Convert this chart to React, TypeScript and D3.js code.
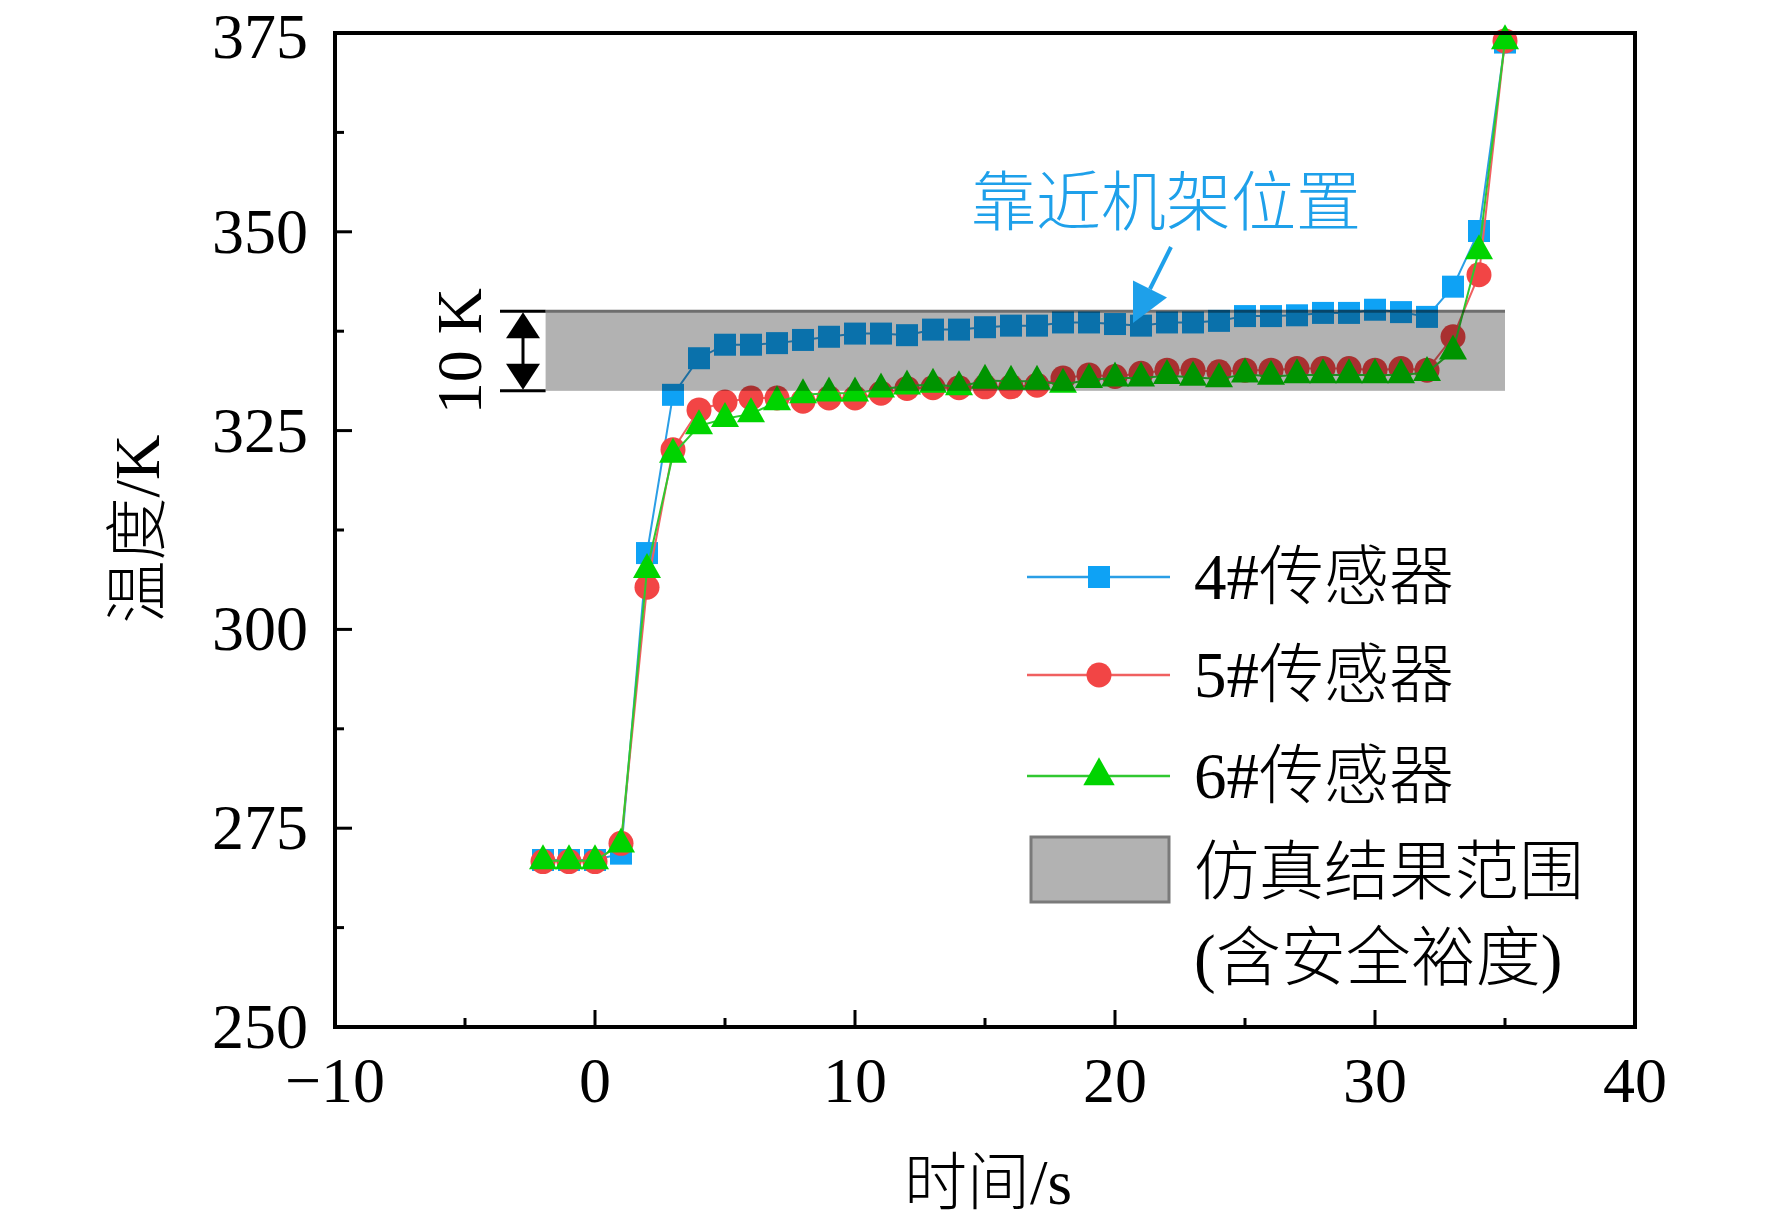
import React from "react";
import * as d3 from "d3";

const TIME = [-2, -1, 0, 1, 2, 3, 4, 5, 6, 7, 8, 9, 10, 11, 12, 13, 14, 15, 16, 17, 18, 19, 20, 21, 22, 23, 24, 25, 26, 27, 28, 29, 30, 31, 32, 33, 34, 35];
const SENSOR4 = [271.0, 271.0, 271.0, 271.8, 309.6, 329.5, 334.1, 335.8, 335.8, 336.0, 336.4, 336.8, 337.2, 337.2, 337.0, 337.7, 337.7, 338.0, 338.2, 338.2, 338.6, 338.6, 338.4, 338.2, 338.6, 338.6, 338.8, 339.4, 339.4, 339.5, 339.8, 339.8, 340.2, 339.9, 339.3, 343.1, 350.1, 373.8];
const SENSOR5 = [270.8, 270.8, 270.8, 273.1, 305.3, 322.6, 327.6, 328.6, 329.1, 329.1, 328.7, 329.1, 329.1, 329.7, 330.3, 330.4, 330.4, 330.5, 330.5, 330.7, 331.6, 332.0, 331.8, 332.2, 332.6, 332.6, 332.4, 332.6, 332.6, 332.8, 332.8, 332.8, 332.6, 332.8, 332.6, 336.8, 344.6, 374.0];
const SENSOR6 = [270.9, 270.9, 270.9, 273.0, 307.5, 322.0, 325.6, 326.5, 327.1, 328.6, 329.5, 329.7, 329.7, 330.2, 330.6, 330.8, 330.5, 331.3, 331.2, 331.2, 330.8, 331.4, 331.6, 331.6, 331.9, 331.7, 331.5, 332.1, 331.8, 332.0, 332.0, 332.0, 332.0, 332.0, 332.3, 335.0, 347.6, 374.0];

const X_TICKS = [-10, 0, 10, 20, 30, 40];
const X_MINOR = [-5, 5, 15, 25, 35];
const Y_TICKS = [250, 275, 300, 325, 350, 375];
const Y_MINOR = [262.5, 287.5, 312.5, 337.5, 362.5];
const X_TICK_LABELS = ["\u221210", "0", "10", "20", "30", "40"];
const Y_TICK_LABELS = ["250", "275", "300", "325", "350", "375"];

const BAND_T = [-1.9, 35];
const BAND_K = [330, 340];

const SERIES_NAMES = ["4#传感器", "5#传感器", "6#传感器"];
const BAND_NAME = ["仿真结果范围", "(含安全裕度)"];
const ANNOTATION = "靠近机架位置";
const X_TITLE = "时间/s";
const Y_TITLE = "温度/K";
const BAND_LABEL = "10 K";

const NUM_FONT = "'Liberation Serif', 'Times New Roman', serif";
const MIX_FONT = "'Liberation Serif', 'Noto Sans CJK SC', serif";

const BLUE = "#0ea2f5";
const BLUE_LINE = "#2a9ee6";
const RED = "#f24545";
const RED_LINE = "#f06060";
const GREEN = "#00d400";
const GREEN_LINE = "#30c830";
const ANNO_BLUE = "#1ea0ea";

function Marker({ kind, x, y, color, scale = 1 }: { kind: string; x: number; y: number; color: string; scale?: number }) {
  if (kind === "square") {
    const h = 11 * scale;
    return <rect x={x - h} y={y - h} width={2 * h} height={2 * h} fill={color} />;
  }
  if (kind === "circle") {
    return <circle cx={x} cy={y} r={12.5 * scale} fill={color} />;
  }
  const s = 28 * scale;
  const h = 25 * scale;
  const p = `M${x},${y - (2 * h) / 3} L${x + s / 2},${y + h / 3} L${x - s / 2},${y + h / 3} Z`;
  return <path d={p} fill={color} />;
}

export default function App() {
  const W = 1772;
  const H = 1224;
  const x = d3.scaleLinear().domain([-10, 40]).range([335, 1635]);
  const y = d3.scaleLinear().domain([250, 375]).range([1027, 33]);

  const series = [
    { name: SERIES_NAMES[0], values: SENSOR4, color: BLUE, line: BLUE_LINE, kind: "square", legScale: 1 },
    { name: SERIES_NAMES[1], values: SENSOR5, color: RED, line: RED_LINE, kind: "circle", legScale: 1 },
    { name: SERIES_NAMES[2], values: SENSOR6, color: GREEN, line: GREEN_LINE, kind: "triangle", legScale: 1.12 },
  ];

  const lineGen = d3
    .line<number>()
    .x((_, i) => x(TIME[i]))
    .y((d) => y(d));

  const x0 = x.range()[0];
  const x1 = x.range()[1];
  const yTop = y.range()[1];
  const yBot = y.range()[0];

  const bandX0 = x(BAND_T[0]);
  const bandX1 = x(BAND_T[1]);
  const bandY0 = y(BAND_K[1]);
  const bandY1 = y(BAND_K[0]);

  // legend
  const legX0 = 1027;
  const legX1 = 1170;
  const legMid = 1099;
  const legTextX = 1194;
  const legRows = [577, 675, 776];

  // double arrow
  const arrX = 523;
  const arrowUp = `M${arrX},${bandY0 + 1} L${arrX + 17},${bandY0 + 27} L${arrX - 17},${bandY0 + 27} Z`;
  const arrowDown = `M${arrX},${bandY1 - 1} L${arrX + 17},${bandY1 - 27} L${arrX - 17},${bandY1 - 27} Z`;

  // annotation arrow
  const aStart = [1171, 247];
  const aTip = [1133, 323];
  const ang = Math.atan2(aTip[1] - aStart[1], aTip[0] - aStart[0]);
  const headLen = 38;
  const headHalf = 19;
  const bx = aTip[0] - headLen * Math.cos(ang);
  const by = aTip[1] - headLen * Math.sin(ang);
  const px = -Math.sin(ang);
  const py = Math.cos(ang);
  const headPath = `M${aTip[0]},${aTip[1]} L${bx + headHalf * px},${by + headHalf * py} L${bx - headHalf * px},${by - headHalf * py} Z`;

  return (
    <svg
      width={W}
      height={H}
      viewBox={`0 0 ${W} ${H}`}
      style={{ position: "absolute", left: 0, top: 0, background: "#ffffff" }}
    >
      <rect x={0} y={0} width={W} height={H} fill="#ffffff" />

      {/* series */}
      {series.map((s) => (
        <g key={s.name}>
          <path d={lineGen(s.values) || ""} fill="none" stroke={s.line} strokeWidth={2} />
          {s.values.map((v, i) => (
            <Marker key={i} kind={s.kind} x={x(TIME[i])} y={y(v)} color={s.color} />
          ))}
        </g>
      ))}

      {/* simulation band (multiply over markers) */}
      <g style={{ mixBlendMode: "multiply" }}>
        <rect x={bandX0} y={bandY0} width={bandX1 - bandX0} height={bandY1 - bandY0} fill="#b2b2b2" />
        <line x1={bandX0} x2={bandX1} y1={bandY0} y2={bandY0} stroke="#6e6e6e" strokeWidth={3} />
      </g>

      {/* 10 K double arrow */}
      <line x1={500} x2={bandX0} y1={bandY0} y2={bandY0} stroke="#000" strokeWidth={3} />
      <line x1={500} x2={bandX0} y1={bandY1} y2={bandY1} stroke="#000" strokeWidth={3} />
      <line x1={arrX} x2={arrX} y1={bandY0 + 10} y2={bandY1 - 10} stroke="#000" strokeWidth={3} />
      <path d={arrowUp} fill="#000" />
      <path d={arrowDown} fill="#000" />
      <text
        transform={`translate(481, ${(bandY0 + bandY1) / 2}) rotate(-90)`}
        textAnchor="middle"
        fontFamily={NUM_FONT}
        fontSize={64}
        fill="#000"
      >
        {BAND_LABEL}
      </text>

      {/* annotation */}
      <text
        x={971}
        y={203}
        dominantBaseline="central"
        fontFamily={MIX_FONT}
        fontSize={65}
        fontWeight={300}
        fill={ANNO_BLUE}
      >
        {ANNOTATION}
      </text>
      <line x1={aStart[0]} y1={aStart[1]} x2={bx} y2={by} stroke={ANNO_BLUE} strokeWidth={4} />
      <path d={headPath} fill={ANNO_BLUE} />

      {/* frame */}
      <rect x={x0} y={yTop} width={x1 - x0} height={yBot - yTop} fill="none" stroke="#000" strokeWidth={4} />

      {/* ticks */}
      {X_TICKS.map((t) => (
        <line key={"xt" + t} x1={x(t)} x2={x(t)} y1={yBot} y2={yBot - 17} stroke="#000" strokeWidth={3} />
      ))}
      {X_MINOR.map((t) => (
        <line key={"xm" + t} x1={x(t)} x2={x(t)} y1={yBot} y2={yBot - 9} stroke="#000" strokeWidth={3} />
      ))}
      {Y_TICKS.map((t) => (
        <line key={"yt" + t} x1={x0} x2={x0 + 17} y1={y(t)} y2={y(t)} stroke="#000" strokeWidth={3} />
      ))}
      {Y_MINOR.map((t) => (
        <line key={"ym" + t} x1={x0} x2={x0 + 9} y1={y(t)} y2={y(t)} stroke="#000" strokeWidth={3} />
      ))}

      {/* tick labels */}
      {X_TICKS.map((t, i) => (
        <text key={"xl" + t} x={x(t)} y={1102} textAnchor="middle" fontFamily={NUM_FONT} fontSize={64} fill="#000">
          {X_TICK_LABELS[i]}
        </text>
      ))}
      {Y_TICKS.map((t, i) => (
        <text
          key={"yl" + t}
          x={308}
          y={Math.max(y(t) + 21, 58)}
          textAnchor="end"
          fontFamily={NUM_FONT}
          fontSize={64}
          fill="#000"
        >
          {Y_TICK_LABELS[i]}
        </text>
      ))}

      {/* axis titles */}
      <text x={988} y={1183} textAnchor="middle" dominantBaseline="central" fontFamily={MIX_FONT} fontSize={63} fontWeight={300} fill="#000">
        {X_TITLE}
      </text>
      <text
        transform={`translate(138, 529) rotate(-90)`}
        textAnchor="middle"
        dominantBaseline="central"
        fontFamily={MIX_FONT}
        fontSize={63}
        fontWeight={300}
        fill="#000"
      >
        {Y_TITLE}
      </text>

      {/* legend */}
      {series.map((s, i) => (
        <g key={"leg" + i}>
          <line x1={legX0} x2={legX1} y1={legRows[i]} y2={legRows[i]} stroke={s.line} strokeWidth={2.5} />
          <Marker kind={s.kind} x={legMid} y={legRows[i]} color={s.color} scale={s.legScale} />
          <text x={legTextX} y={legRows[i]} dominantBaseline="central" fontFamily={MIX_FONT} fontSize={65} fontWeight={300} fill="#000">
            {s.name}
          </text>
        </g>
      ))}
      <rect x={1031} y={837} width={138} height={65} fill="#b2b2b2" stroke="#7a7a7a" strokeWidth={3} />
      <text x={legTextX} y={872} dominantBaseline="central" fontFamily={MIX_FONT} fontSize={65} fontWeight={300} fill="#000">
        {BAND_NAME[0]}
      </text>
      <text x={legTextX} y={958} dominantBaseline="central" fontFamily={MIX_FONT} fontSize={65} fontWeight={300} fill="#000">
        {BAND_NAME[1]}
      </text>
    </svg>
  );
}
